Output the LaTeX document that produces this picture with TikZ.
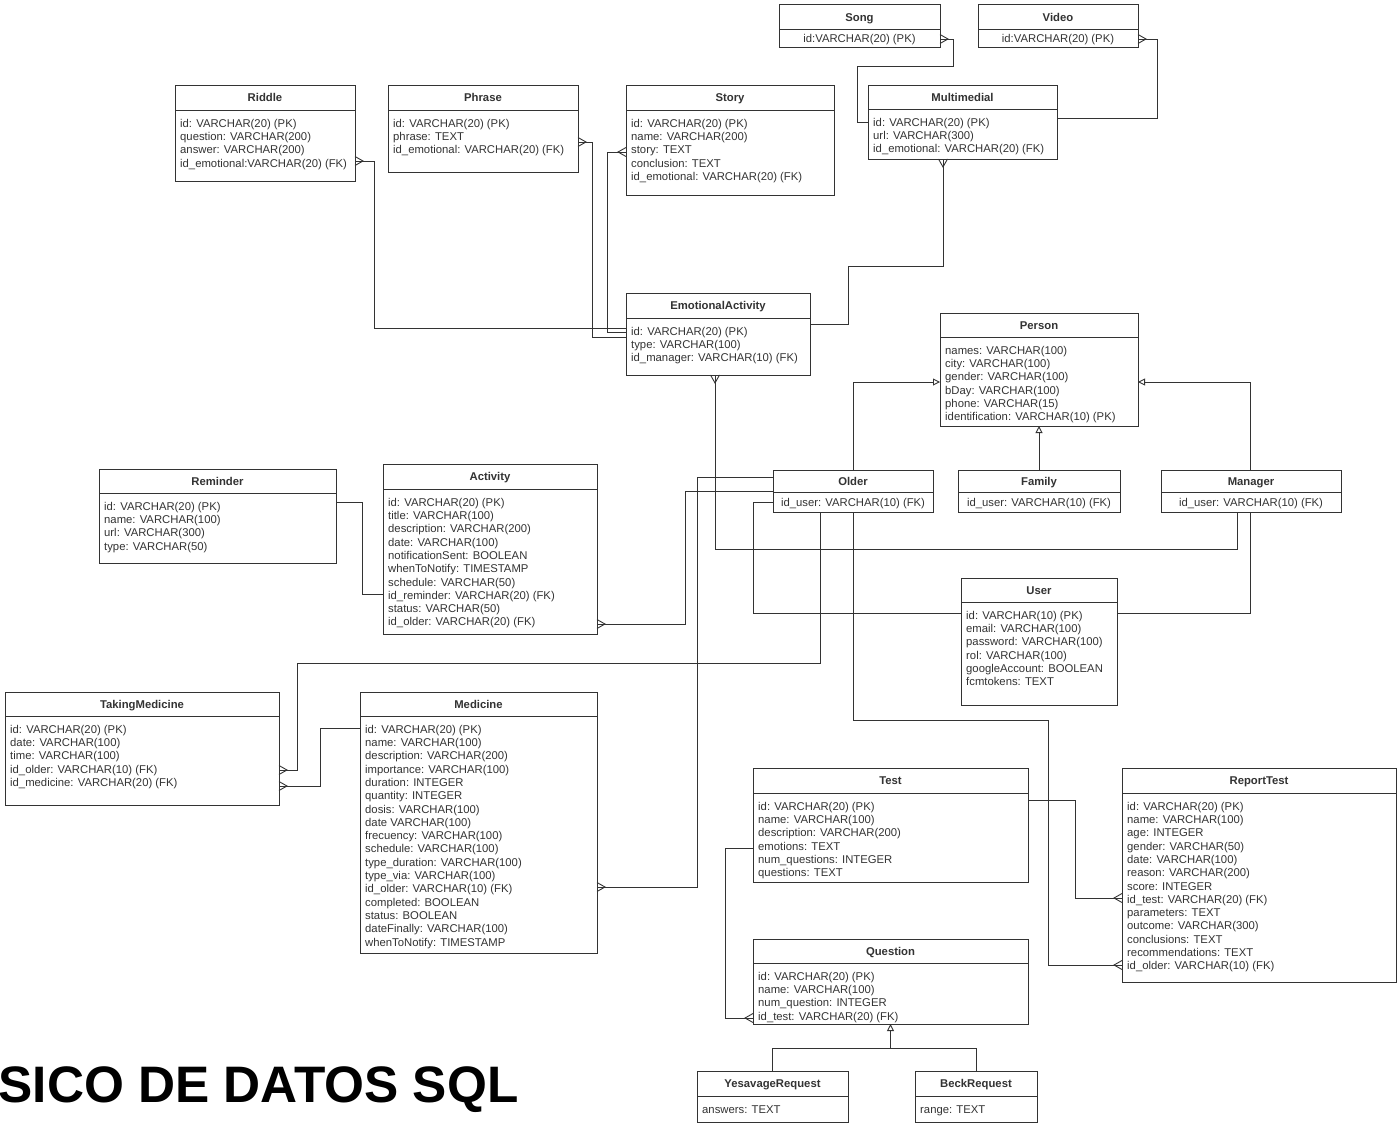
\documentclass[tikz,border=0pt]{standalone}
\usepackage{fontspec}
\setmainfont{Liberation Sans}
\usetikzlibrary{arrows.meta}
\definecolor{ln}{HTML}{333333}
\definecolor{tx}{HTML}{333333}
\tikzset{
 box/.style={draw=ln, line width=1pt, fill=white, inner sep=0pt, outer sep=0pt},
 sepline/.style={draw=ln, line width=1pt},
 ttl/.style={font=\fontsize{11.3}{13.3}\selectfont\bfseries, text=tx, inner sep=0pt, anchor=base},
 bdy/.style={font=\fontsize{11.3}{13.3}\selectfont, text=tx, inner sep=0pt, align=left, anchor=north west},
 bdyc/.style={font=\fontsize{11.3}{13.3}\selectfont, text=tx, inner sep=0pt, anchor=base},
 conn/.style={draw=ln, line width=0.9pt},
 inh/.style={conn, -{Triangle[open, length=7pt, width=7pt]}},
}
% name, title, left, top, right, header bottom, bottom, body
\newcommand\ent[8]{%
 \node[box, anchor=north west, minimum width={(#5)-(#3)}, minimum height={(#7)-(#4)}] (#1) at (#3,-#4) {};
 \draw[sepline] (#3,-#6) -- (#5,-#6);
 \node[ttl] (#1-t) at ({(#3+#5)/2},{-(#4+#6)/2-4}) {#2};
 \node[bdy] (#1-b) at (#3+5,{-(#6+8)}) {\rule{0pt}{9pt}#8};
}
\newcommand\entc[8]{%
 \node[box, anchor=north west, minimum width={(#5)-(#3)}, minimum height={(#7)-(#4)}] (#1) at (#3,-#4) {};
 \draw[sepline] (#3,-#6) -- (#5,-#6);
 \node[ttl] (#1-t) at ({(#3+#5)/2},{-(#4+#6)/2-4}) {#2};
 \node[bdyc] (#1-b) at ({(#3+#5)/2},{-(#6+#7)/2-4}) {#8};
}
\newcommand\crow[2]{\draw[conn, shift={(#1)}, rotate=#2] (0,4.5) -- (8,0) -- (0,-4.5);}
\begin{document}
\begin{tikzpicture}[x=1pt,y=1pt]
\useasboundingbox[fill=white] (0,0) rectangle (1397,-1124);

\entc{song}{Song}{779}{5}{940}{30}{48}{id:VARCHAR(20) (PK)}
\entc{video}{Video}{978}{5}{1138}{30}{48}{id:VARCHAR(20) (PK)}
\ent{mm}{Multimedial}{868}{85}{1057}{109}{159}{id: VARCHAR(20) (PK)\\url: VARCHAR(300)\\id\_emotional: VARCHAR(20) (FK)}
\ent{riddle}{Riddle}{175}{85}{355}{110}{181}{id: VARCHAR(20) (PK)\\question: VARCHAR(200)\\answer: VARCHAR(200)\\id\_emotional:VARCHAR(20) (FK)}
\ent{phrase}{Phrase}{388}{85}{578}{110}{172}{id: VARCHAR(20) (PK)\\phrase: TEXT\\id\_emotional: VARCHAR(20) (FK)}
\ent{story}{Story}{626}{85}{834}{110}{195}{id: VARCHAR(20) (PK)\\name: VARCHAR(200)\\story: TEXT\\conclusion: TEXT\\id\_emotional: VARCHAR(20) (FK)}
\ent{ea}{EmotionalActivity}{626}{293}{810}{318}{375}{id: VARCHAR(20) (PK)\\type: VARCHAR(100)\\id\_manager: VARCHAR(10) (FK)}
\ent{person}{Person}{940}{313}{1138}{337}{426}{names: VARCHAR(100)\\city: VARCHAR(100)\\gender: VARCHAR(100)\\bDay: VARCHAR(100)\\phone: VARCHAR(15)\\identification: VARCHAR(10) (PK)}
\entc{older}{Older}{773}{470}{933}{492}{512}{id\_user: VARCHAR(10) (FK)}
\entc{family}{Family}{958}{470}{1120}{492}{512}{id\_user: VARCHAR(10) (FK)}
\entc{manager}{Manager}{1161}{470}{1341}{492}{512}{id\_user: VARCHAR(10) (FK)}
\ent{reminder}{Reminder}{99}{469}{336}{493}{563}{id: VARCHAR(20) (PK)\\name: VARCHAR(100)\\url: VARCHAR(300)\\type: VARCHAR(50)}
\ent{activity}{Activity}{383}{464}{597}{489}{634}{id: VARCHAR(20) (PK)\\title: VARCHAR(100)\\description: VARCHAR(200)\\date: VARCHAR(100)\\notificationSent: BOOLEAN\\whenToNotify: TIMESTAMP\\schedule: VARCHAR(50)\\id\_reminder: VARCHAR(20) (FK)\\status: VARCHAR(50)\\id\_older: VARCHAR(20) (FK)}
\ent{user}{User}{961}{578}{1117}{602}{705}{id: VARCHAR(10) (PK)\\email: VARCHAR(100)\\password: VARCHAR(100)\\rol: VARCHAR(100)\\googleAccount: BOOLEAN\\fcmtokens: TEXT}
\ent{tm}{TakingMedicine}{5}{692}{279}{716}{805}{id: VARCHAR(20) (PK)\\date: VARCHAR(100)\\time: VARCHAR(100)\\id\_older: VARCHAR(10) (FK)\\id\_medicine: VARCHAR(20) (FK)}
\ent{medicine}{Medicine}{360}{692}{597}{716}{953}{id: VARCHAR(20) (PK)\\name: VARCHAR(100)\\description: VARCHAR(200)\\importance: VARCHAR(100)\\duration: INTEGER\\quantity: INTEGER\\dosis: VARCHAR(100)\\date VARCHAR(100)\\frecuency: VARCHAR(100)\\schedule: VARCHAR(100)\\type\_duration: VARCHAR(100)\\type\_via: VARCHAR(100)\\id\_older: VARCHAR(10) (FK)\\completed: BOOLEAN\\status: BOOLEAN\\dateFinally: VARCHAR(100)\\whenToNotify: TIMESTAMP}
\ent{test}{Test}{753}{768}{1028}{793}{882}{id: VARCHAR(20) (PK)\\name: VARCHAR(100)\\description: VARCHAR(200)\\emotions: TEXT\\num\_questions: INTEGER\\questions: TEXT}
\ent{rt}{ReportTest}{1122}{768}{1396}{793}{982}{id: VARCHAR(20) (PK)\\name: VARCHAR(100)\\age: INTEGER\\gender: VARCHAR(50)\\date: VARCHAR(100)\\reason: VARCHAR(200)\\score: INTEGER\\id\_test: VARCHAR(20) (FK)\\parameters: TEXT\\outcome: VARCHAR(300)\\conclusions: TEXT\\recommendations: TEXT\\id\_older: VARCHAR(10) (FK)}
\ent{question}{Question}{753}{939}{1028}{963}{1024}{id: VARCHAR(20) (PK)\\name: VARCHAR(100)\\num\_question: INTEGER\\id\_test: VARCHAR(20) (FK)}
\ent{yes}{YesavageRequest}{697}{1071}{848}{1096}{1122}{answers: TEXT}
\ent{beck}{BeckRequest}{915}{1071}{1037}{1096}{1122}{range: TEXT}

\node[font=\fontsize{51.3}{60}\selectfont\bfseries, anchor=base west, inner sep=0pt, text=black] (heading) at (-1.5,-1102) {SICO DE DATOS SQL};

% connectors
\draw[conn] (song.east |- 0,-39) -- (953,-39) -- (953,-66) -- (857,-66) -- (857,-122) -- (mm.west |- 0,-122);
\crow{song.east |- 0,-39}{0}
\draw[conn] (video.east |- 0,-39) -- (1157,-39) -- (1157,-118) -- (mm.east |- 0,-118);
\crow{video.east |- 0,-39}{0}
\draw[conn] (mm.south -| 943,0) -- (943,-266) -- (848,-266) -- (848,-324) -- (ea.east |- 0,-324);
\crow{mm.south -| 943,0}{270}
\draw[conn] (riddle.east |- 0,-161) -- (374,-161) -- (374,-328) -- (ea.west |- 0,-328);
\crow{riddle.east |- 0,-161}{0}
\draw[conn] (phrase.east |- 0,-142) -- (592,-142) -- (592,-337) -- (ea.west |- 0,-337);
\crow{phrase.east |- 0,-142}{0}
\draw[conn] (story.west |- 0,-152) -- (607,-152) -- (607,-332) -- (ea.west |- 0,-332);
\crow{story.west |- 0,-152}{180}
\draw[conn] (ea.south -| 715,0) -- (715,-549) -- (1237,-549) -- (manager.south -| 1237,0);
\crow{ea.south -| 715,0}{270}

\draw[inh] (older.north -| 853,0) -- (853,-382) -- (person.west |- 0,-382);
\draw[inh] (family.north) -- (person.south);
\draw[inh] (manager.north -| 1250,0) -- (1250,-382) -- (person.east |- 0,-382);

\draw[conn] (older.west |- 0,-477) -- (697,-477) -- (697,-887) -- (medicine.east |- 0,-887);
\crow{medicine.east |- 0,-887}{0}
\draw[conn] (older.west |- 0,-491) -- (685,-491) -- (685,-624) -- (activity.east |- 0,-624);
\crow{activity.east |- 0,-624}{0}
\draw[conn] (older.west |- 0,-502) -- (753,-502) -- (753,-613) -- (user.west |- 0,-613);
\draw[conn] (older.south -| 820,0) -- (820,-663) -- (297,-663) -- (297,-770) -- (tm.east |- 0,-770);
\crow{tm.east |- 0,-770}{0}
\draw[conn] (older.south -| 853,0) -- (853,-720) -- (1048,-720) -- (1048,-965) -- (rt.west |- 0,-965);
\crow{rt.west |- 0,-965}{180}
\draw[conn] (manager.south -| 1250,0) -- (1250,-613) -- (user.east |- 0,-613);
\draw[conn] (reminder.east |- 0,-502) -- (362,-502) -- (362,-594) -- (activity.west |- 0,-594);
\draw[conn] (medicine.west |- 0,-728) -- (320,-728) -- (320,-786) -- (tm.east |- 0,-786);
\crow{tm.east |- 0,-786}{0}
\draw[conn] (test.east |- 0,-800) -- (1075,-800) -- (1075,-898) -- (rt.west |- 0,-898);
\crow{rt.west |- 0,-898}{180}
\draw[conn] (test.west |- 0,-848) -- (725,-848) -- (725,-1018) -- (question.west |- 0,-1018);
\crow{question.west |- 0,-1018}{180}

\draw[conn] (yes.north) -- (yes.north |- 0,-1048) -- (beck.north |- 0,-1048) -- (beck.north);
\draw[inh] (question.south |- 0,-1048) -- (question.south);
\end{tikzpicture}
\end{document}
